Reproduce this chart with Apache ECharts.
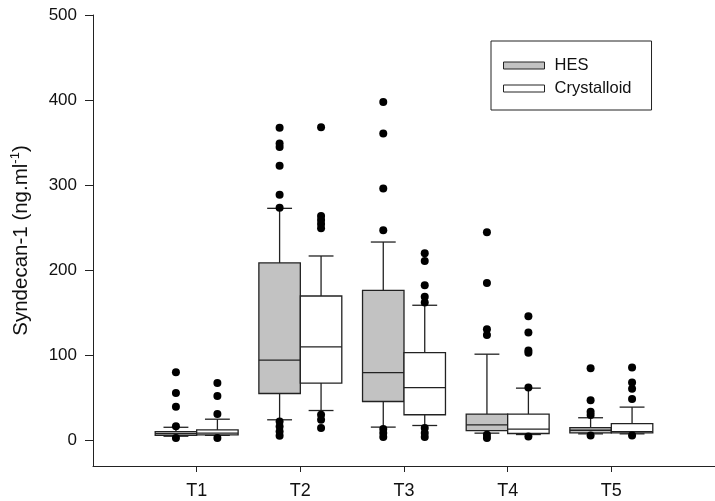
<!DOCTYPE html>
<html>
<head>
<meta charset="utf-8">
<script src="https://cdn.jsdelivr.net/npm/echarts@6/dist/echarts.min.js"></script>
<style>
  html, body { margin: 0; padding: 0; background: #fff; }
  #chart { width: 715px; height: 501px; }
</style>
</head>
<body>
<div id="chart"></div>
<script>
// categories (time points)
var categories = ['T1', 'T2', 'T3', 'T4', 'T5'];
// box stats: [lower whisker, Q1, median, Q3, upper whisker]
var hesStats = [
  [5, 6, 8, 10.5, 15.5],
  [24.3, 55.2, 94.4, 208.6, 272.8],
  [15.7, 45.8, 79.8, 176.5, 233.2],
  [8.6, 11.6, 18.3, 31, 101.4],
  [7.8, 9, 12, 15.1, 26.7]
];
var cryStats = [
  [6, 6.6, 8.6, 12.4, 25],
  [35.2, 67.4, 110, 169.8, 216.8],
  [17.6, 30.2, 62.2, 103.3, 158.9],
  [7, 8.2, 13.3, 31, 61.5],
  [7.8, 9, 10.5, 19.8, 39.2]
];
// outliers per time point
var hesOutliers = [
  [80.2, 55.8, 39.5, 16.7, 3],
  [367.4, 349, 345, 322.8, 288.7, 273.5, 22.3, 16.4, 10.6, 5.5],
  [397.9, 360.8, 296.2, 247, 13.4, 8.7, 4],
  [244.6, 185.1, 130.8, 124, 6.6, 3],
  [85, 47.3, 33.7, 29.9, 5.8]
];
var cryOutliers = [
  [67.5, 52.3, 31, 3],
  [368.2, 263.7, 259, 254.3, 249.3, 30.2, 24.3, 14.6],
  [220, 211, 182.4, 169, 162, 14.6, 8.7, 4],
  [146, 126.8, 105.6, 103, 62.2, 4.7],
  [85.7, 68, 60.7, 48.6, 5.8]
];
var yTicks = [0, 100, 200, 300, 400, 500];

var LINE = '#222';
var HES_FILL = '#c2c2c2';
var CRY_FILL = '#ffffff';
var OFFSET = 0.2; // half distance between the two boxes of a time point

function boxData(stats, shift) {
  return stats.map(function (s, i) {
    return [i + 1 + shift].concat(s);
  });
}
function outlierData(list, shift) {
  var out = [];
  list.forEach(function (vals, i) {
    vals.forEach(function (v) { out.push([i + 1 + shift, v]); });
  });
  return out;
}

// draws one box with whiskers and caps
function renderBox(params, api) {
  var x = api.value(0);
  var p = [];
  for (var i = 1; i <= 5; i++) p.push(api.coord([x, api.value(i)]));
  var cx = p[0][0];
  var half = api.size([0.2, 0])[0];
  var cap = api.size([0.12, 0])[0];
  var fill = api.visual('color');
  var st = { stroke: LINE, lineWidth: 1.3 };
  return {
    type: 'group',
    children: [
      { type: 'line', shape: { x1: cx, y1: p[0][1], x2: cx, y2: p[1][1] }, style: st },
      { type: 'line', shape: { x1: cx, y1: p[3][1], x2: cx, y2: p[4][1] }, style: st },
      { type: 'line', shape: { x1: cx - cap, y1: p[0][1], x2: cx + cap, y2: p[0][1] }, style: st },
      { type: 'line', shape: { x1: cx - cap, y1: p[4][1], x2: cx + cap, y2: p[4][1] }, style: st },
      { type: 'rect', shape: { x: cx - half, y: p[3][1], width: half * 2, height: p[1][1] - p[3][1] },
        style: { fill: fill, stroke: LINE, lineWidth: 1.3 } },
      { type: 'line', shape: { x1: cx - half, y1: p[2][1], x2: cx + half, y2: p[2][1] }, style: st }
    ]
  };
}

var myChart = echarts.init(document.getElementById('chart'));
var option = {
  backgroundColor: '#fff',
  animation: false,
  textStyle: { fontFamily: 'Liberation Sans, Arial, sans-serif', color: '#111' },
  grid: { left: 93, top: 15, width: 628.5, bottom: 35 },
  legend: {
    orient: 'vertical',
    left: 491,
    top: 41,
    padding: [16, 20, 13, 12],
    borderColor: LINE,
    borderWidth: 1,
    itemWidth: 41,
    itemHeight: 7,
    itemGap: 6,
    icon: 'rect',
    textStyle: { fontSize: 16.5, color: '#111', padding: [0, 0, 0, 5] },
    data: [
      { name: 'HES', itemStyle: { color: HES_FILL, borderColor: LINE, borderWidth: 1 } },
      { name: 'Crystalloid', itemStyle: { color: CRY_FILL, borderColor: LINE, borderWidth: 1 } }
    ]
  },
  xAxis: {
    type: 'value',
    min: 0,
    max: 6,
    splitLine: { show: false },
    axisLine: { onZero: false, lineStyle: { color: LINE, width: 1 } },
    axisTick: { customValues: [1, 2, 3, 4, 5], inside: false, length: 6, lineStyle: { color: LINE } },
    axisLabel: {
      customValues: [1, 2, 3, 4, 5],
      margin: 16,
      fontSize: 18,
      color: '#111',
      formatter: function (v) { return categories[v - 1]; }
    }
  },
  yAxis: {
    type: 'value',
    min: -30,
    max: 500,
    splitLine: { show: false },
    axisLine: { show: true, lineStyle: { color: LINE, width: 1 } },
    axisTick: { show: true, inside: false, customValues: yTicks, length: 8, lineStyle: { color: LINE } },
    axisLabel: { customValues: yTicks, margin: 16, fontSize: 17, color: '#111' },
    name: '{a|Syndecan-1 (ng.ml}{s|-1}{a|)}',
    nameLocation: 'middle',
    nameRotate: 90,
    nameGap: 60,
    nameTextStyle: {
      rich: {
        a: { fontSize: 20.5, color: '#111', lineHeight: 24 },
        s: { fontSize: 13, color: '#111', verticalAlign: 'top', lineHeight: 24, padding: [0, 0, 9, 0] }
      }
    }
  },
  series: [
    {
      name: 'HES',
      type: 'custom',
      renderItem: renderBox,
      itemStyle: { color: HES_FILL },
      encode: { x: 0, y: [1, 2, 3, 4, 5] },
      data: boxData(hesStats, -OFFSET),
      z: 2
    },
    {
      name: 'Crystalloid',
      type: 'custom',
      renderItem: renderBox,
      itemStyle: { color: CRY_FILL },
      encode: { x: 0, y: [1, 2, 3, 4, 5] },
      data: boxData(cryStats, OFFSET),
      z: 2
    },
    {
      name: 'HES outliers',
      type: 'scatter',
      symbolSize: 8,
      itemStyle: { color: '#000', opacity: 1 },
      data: outlierData(hesOutliers, -OFFSET),
      z: 3
    },
    {
      name: 'Crystalloid outliers',
      type: 'scatter',
      symbolSize: 8,
      itemStyle: { color: '#000', opacity: 1 },
      data: outlierData(cryOutliers, OFFSET),
      z: 3
    }
  ]
};
myChart.setOption(option);
</script>
</body>
</html>
